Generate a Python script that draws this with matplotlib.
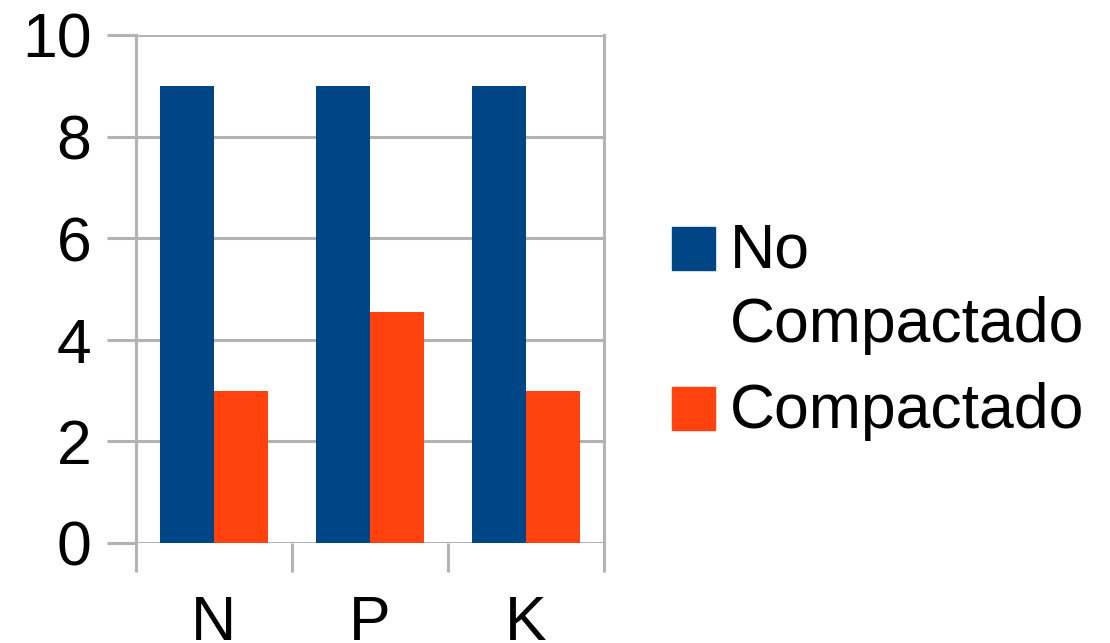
import matplotlib
matplotlib.use('Agg')
import matplotlib.pyplot as plt
import numpy as np
from matplotlib.patches import Rectangle

categories = ['N', 'P', 'K']
no_compactado = [9, 9, 9]
compactado = [3, 4.55, 3]
series_labels = ['No\nCompactado', 'Compactado']
yticks = [0, 2, 4, 6, 8, 10]

BLUE = '#004586'
ORANGE = '#ff420e'
GRID = '#b3b3b3'

W, H = 1110, 643
plt.rcParams['font.family'] = ['Liberation Sans', 'DejaVu Sans']
fig = plt.figure(figsize=(W / 100, H / 100), dpi=100)
ax = fig.add_axes([136 / W, 100 / H, 468 / W, 508 / H])

x = np.arange(len(categories)) + 0.5
bw = 0.346
ax.bar(x - bw / 2, no_compactado, bw, color=BLUE, zorder=3)
ax.bar(x + bw / 2, compactado, bw, color=ORANGE, zorder=3)

ax.set_xlim(0, len(categories))
ax.set_ylim(0, 10)
ax.set_yticks(yticks)
ax.yaxis.grid(True, color=GRID, lw=2.2, zorder=0)
ax.set_axisbelow(True)

ax.set_xticks(np.arange(len(categories) + 1))
ax.set_xticklabels([])
ax.set_xticks(x, minor=True)
ax.set_xticklabels(categories, minor=True)
ax.tick_params(axis='x', which='major', length=21, width=2.2, color=GRID)
ax.tick_params(axis='x', which='minor', length=0, pad=37, labelsize=45)
ax.tick_params(axis='y', length=21, width=2.2, color=GRID, pad=11, labelsize=45)

for side in ['top', 'bottom']:
    ax.spines[side].set_visible(False)
for side in ['left', 'right']:
    ax.spines[side].set_color(GRID)
    ax.spines[side].set_linewidth(2.2)

# legend drawn by hand so the swatch sits beside the first label line
def px(xp, yp):
    return xp / W, 1 - yp / H

for color, top in [(BLUE, 227), (ORANGE, 387)]:
    fig.add_artist(Rectangle(px(672, top + 43), 43 / W, 43 / H,
                             transform=fig.transFigure, color=color))

fig.text(*px(730, 268), 'No', fontsize=45, va='baseline')
fig.text(*px(730, 342), 'Compactado', fontsize=45, va='baseline')
fig.text(*px(730, 428), 'Compactado', fontsize=45, va='baseline')

fig.savefig('out.png', dpi=100)
